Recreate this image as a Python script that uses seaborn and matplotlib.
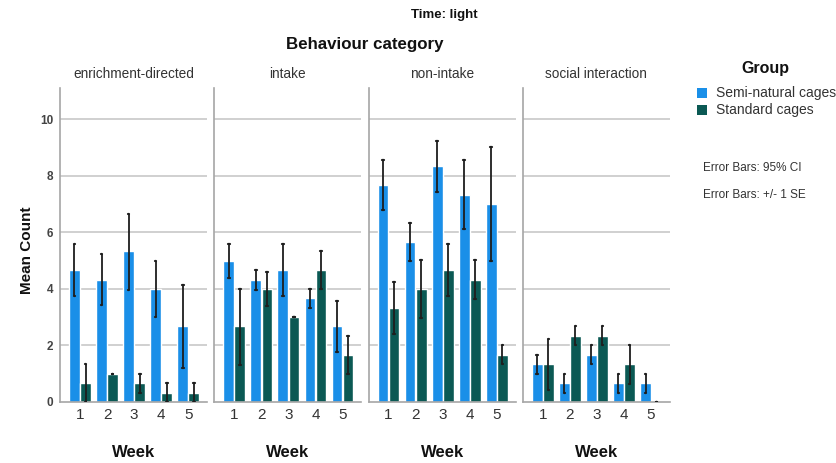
import matplotlib
matplotlib.use("Agg")
import matplotlib.pyplot as plt
from matplotlib.patches import Rectangle
import seaborn as sns
import pandas as pd

sns.set_style("white")
plt.rcParams["font.family"] = ["Liberation Sans", "DejaVu Sans"]

categories = ["enrichment-directed", "intake", "non-intake", "social interaction"]
weeks = [1, 2, 3, 4, 5]
groups = ["Semi-natural cages", "Standard cages"]

# mean counts per category (rows) and week (columns)
semi_mean = [
    [4.67, 4.33, 5.33, 4.00, 2.67],
    [5.00, 4.33, 4.67, 3.67, 2.67],
    [7.67, 5.67, 8.33, 7.33, 7.00],
    [1.33, 0.67, 1.67, 0.67, 0.67],
]
semi_low = [
    [3.76, 3.44, 3.97, 3.00, 1.21],
    [4.40, 3.97, 3.76, 3.33, 1.76],
    [6.77, 4.98, 7.44, 6.10, 4.98],
    [0.98, 0.32, 1.33, 0.32, 0.32],
]
semi_high = [
    [5.57, 5.22, 6.66, 5.00, 4.12],
    [5.59, 4.68, 5.57, 4.00, 3.56],
    [8.57, 6.34, 9.23, 8.56, 9.00],
    [1.66, 1.00, 2.00, 1.00, 1.00],
]
std_mean = [
    [0.67, 1.00, 0.67, 0.33, 0.33],
    [2.67, 4.00, 3.00, 4.67, 1.67],
    [3.33, 4.00, 4.67, 4.33, 1.67],
    [1.33, 2.33, 2.33, 1.33, 0.00],
]
std_low = [
    [0.00, 1.00, 0.33, 0.00, 0.00],
    [1.32, 3.41, 3.00, 4.00, 0.98],
    [2.42, 2.98, 3.76, 3.64, 1.33],
    [0.44, 2.00, 2.00, 0.65, 0.00],
]
std_high = [
    [1.33, 1.00, 1.00, 0.67, 0.67],
    [4.00, 4.59, 3.00, 5.34, 2.33],
    [4.25, 5.01, 5.57, 5.01, 2.00],
    [2.23, 2.68, 2.68, 2.00, 0.00],
]

colors = ["#1a8fe8", "#0b5954"]
text_col = "#333333"

rows = []
for ci, cat in enumerate(categories):
    for wi, wk in enumerate(weeks):
        rows.append((cat, wk, groups[0], semi_mean[ci][wi]))
        rows.append((cat, wk, groups[1], std_mean[ci][wi]))
df = pd.DataFrame(rows, columns=["category", "week", "group", "mean"])

fig, axes = plt.subplots(1, 4, sharey=True, figsize=(8.37, 4.63), dpi=100)
fig.subplots_adjust(left=60 / 837, right=670 / 837, top=1 - 88 / 463,
                    bottom=1 - 402 / 463, wspace=0.048)

for ci, (ax, cat) in enumerate(zip(axes, categories)):
    sub = df[df["category"] == cat]
    sns.barplot(data=sub, x="week", y="mean", hue="group", hue_order=groups,
                palette=colors, saturation=1, errorbar=None, width=0.82, gap=0.03,
                legend=False, ax=ax, zorder=2)
    lows = [semi_low[ci], std_low[ci]]
    highs = [semi_high[ci], std_high[ci]]
    for gi, cont in enumerate(ax.containers):
        for wi, p in enumerate(cont.patches):
            xc = p.get_x() + p.get_width() / 2
            lo, hi = lows[gi][wi], highs[gi][wi]
            ax.plot([xc, xc], [lo, hi], color="#1e1e1e", lw=1.3, zorder=3,
                    solid_capstyle="butt")
            ax.plot([xc - 0.03, xc + 0.03], [lo, lo], color="#1e1e1e", lw=1.6, zorder=3)
            ax.plot([xc - 0.03, xc + 0.03], [hi, hi], color="#1e1e1e", lw=1.6, zorder=3)

    ax.set_xlim(-0.74, 4.7)
    ax.set_ylim(0, 11.1)
    ax.set_yticks([0, 2, 4, 6, 8, 10])
    for yv in [2, 4, 6, 8, 10]:
        ax.axhline(yv, color="#c8c8c8", lw=1.2, zorder=1)
    for s in ["top", "right"]:
        ax.spines[s].set_visible(False)
    for s in ["left", "bottom"]:
        ax.spines[s].set_color("#a6a6a6")
        ax.spines[s].set_linewidth(1.2)
    ax.tick_params(axis="x", length=0, labelsize=11, labelcolor=text_col, pad=4)
    ax.tick_params(axis="y", length=3 if ci == 0 else 0, width=1,
                   color="#a6a6a6", labelsize=8.5, labelcolor="#444444", pad=2)
    for lab in ax.get_yticklabels():
        lab.set_fontweight("bold")
    ax.set_xlabel("Week", fontsize=12, fontweight="bold", color="#111111", labelpad=17)
    ax.set_ylabel("")
    ax.set_title(cat, fontsize=9.8, color=text_col, pad=7)

W, H = 837, 463
fig.text(27 / W, 1 - 250 / H, "Mean Count", rotation=90, ha="center",
         va="center", fontsize=11, fontweight="bold", color="#111111")
fig.text(444 / W, 1 - 15 / H, "Time: light", ha="center", va="center",
         fontsize=9.5, fontweight="bold", color="#111111")
fig.text(365 / W, 1 - 45 / H, "Behaviour category", ha="center", va="center",
         fontsize=12.2, fontweight="bold", color="#111111")

# group legend
fig.text(765 / W, 1 - 68 / H, "Group", ha="center", va="center",
         fontsize=11.5, fontweight="bold", color="#111111")
for yi, (lab, col) in zip([93, 110], zip(groups, colors)):
    fig.patches.append(Rectangle((697 / W, 1 - (yi + 5) / H), 10 / W, 10 / H,
                                 transform=fig.transFigure, facecolor=col,
                                 edgecolor="none"))
    fig.text(716 / W, 1 - yi / H, lab, ha="left", va="center",
             fontsize=10, color=text_col)

fig.text(703 / W, 1 - 168 / H, "Error Bars: 95% CI", ha="left", va="center",
         fontsize=8.5, color=text_col)
fig.text(703 / W, 1 - 195 / H, "Error Bars: +/- 1 SE", ha="left", va="center",
         fontsize=8.5, color=text_col)

fig.savefig("out.png", dpi=100)
